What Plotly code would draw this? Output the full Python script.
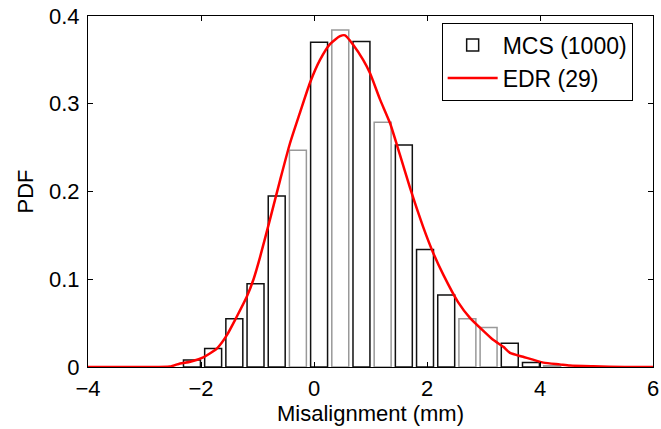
import plotly.graph_objects as go

# Histogram (MCS, 1000 samples) - bin centers and PDF heights
bin_centers = [-2.16, -1.785, -1.41, -1.035, -0.66, -0.285, 0.09, 0.465, 0.84,
               1.215, 1.59, 1.965, 2.34, 2.715, 3.09, 3.465, 3.84, 4.215]
mcs_pdf = [0.008, 0.021, 0.055, 0.095, 0.195, 0.247, 0.370, 0.384, 0.371,
           0.279, 0.253, 0.134, 0.082, 0.055, 0.045, 0.027, 0.005, 0.0015]

# EDR (29) PDF curve
edr_x = [-4.0, -3.0, -2.55, -2.37, -2.19, -1.96, -1.72, -1.545, -1.37, -1.19,
         -1.07, -0.956, -0.78, -0.60, -0.425, -0.248, -0.071, 0.106, 0.283, 0.46,
         0.55, 0.696, 0.87, 0.99, 1.168, 1.345, 1.52, 1.70, 1.93, 2.11,
         2.29, 2.55, 2.76, 3.0, 3.17, 3.35, 3.47, 3.70, 4.06, 4.35,
         4.53, 4.94, 5.5, 6.0]
edr_pdf = [0.0, 0.0, 0.0005, 0.004, 0.006, 0.011, 0.021, 0.036, 0.057, 0.080,
           0.100, 0.125, 0.168, 0.213, 0.255, 0.290, 0.324, 0.350, 0.368, 0.377,
           0.378, 0.367, 0.350, 0.335, 0.305, 0.278, 0.242, 0.204, 0.160, 0.130,
           0.105, 0.074, 0.056, 0.041, 0.031, 0.023, 0.016, 0.0116, 0.005, 0.003,
           0.0017, 0.0008, 0.0, 0.0]

x_ticks = [-4, -2, 0, 2, 4, 6]
y_ticks = [0, 0.1, 0.2, 0.3, 0.4]
y_tick_text = ["0", "0.1", "0.2", "0.3", "0.4"]

# outline colours (some bar edges render grey in the original)
edge_colors = ["#111", "#111", "#111", "#111", "#111", "#999", "#111", "#999", "#111",
               "#999", "#111", "#111", "#111", "#999", "#999", "#111", "#111", "#999"]

FONT = "Liberation Sans, Arial, Helvetica, sans-serif"

fig = go.Figure()
fig.add_trace(go.Bar(
    x=bin_centers, y=mcs_pdf, name="MCS (1000)",
    marker=dict(color="white", line=dict(color=edge_colors, width=1.5)),
))
fig.add_trace(go.Scatter(
    x=edr_x, y=edr_pdf, name="EDR (29)", mode="lines",
    line=dict(color="#ff0000", width=2.5, shape="spline", smoothing=0.6),
))

axis_common = dict(
    showline=True, linecolor="black", linewidth=1, mirror="ticks",
    ticks="inside", ticklen=5, tickcolor="black", showgrid=False, zeroline=False,
    tickfont=dict(family=FONT, size=22, color="black"),
    automargin=False, ticklabeloverflow="allow",
)

fig.update_layout(
    width=661, height=429,
    margin=dict(l=88, r=8, t=16, b=62),
    paper_bgcolor="white", plot_bgcolor="white",
    bargap=0.2,
    font=dict(family=FONT, size=22, color="black"),
    xaxis=dict(range=[-4, 6], tickvals=x_ticks, ticklabelstandoff=2,
               title=dict(text="Misalignment (mm)", standoff=4,
                          font=dict(family=FONT, size=22)),
               **axis_common),
    yaxis=dict(range=[0, 0.4], tickvals=y_ticks, ticktext=y_tick_text,
               ticklabelstandoff=3,
               title=dict(text="PDF", standoff=9, font=dict(family=FONT, size=22)),
               **axis_common),
    legend=dict(x=0.964, y=0.981, xanchor="right", yanchor="top",
                bordercolor="black", borderwidth=1, bgcolor="white",
                font=dict(family=FONT, size=23), tracegroupgap=0, itemwidth=50),
    showlegend=True,
)

# remove the browser's default 8px body margin so the figure fills the window
fig.write_html("out.html",
               config={"displayModeBar": False},
               post_script="document.body.style.margin='0';document.body.style.overflow='hidden';")
